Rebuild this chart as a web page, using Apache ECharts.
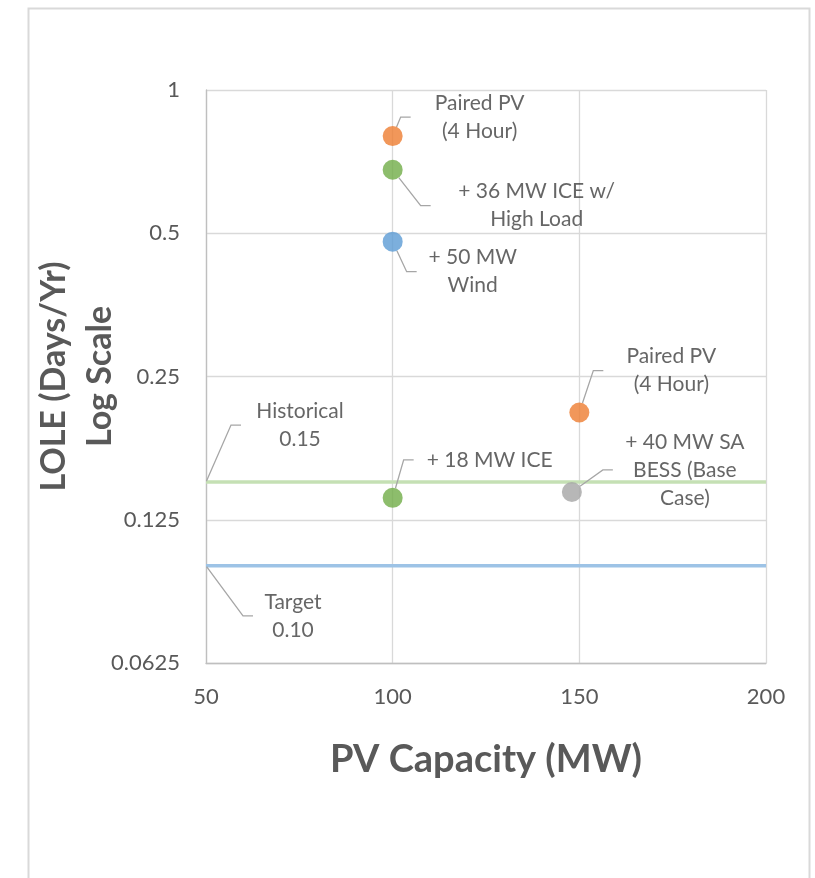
<!DOCTYPE html>
<html>
<head>
<meta charset="utf-8">
<script src="https://cdn.jsdelivr.net/npm/echarts@6/dist/echarts.min.js"></script>
<style>
  html, body { margin: 0; padding: 0; background: #ffffff; }
  #chart { width: 815px; height: 878px; }
</style>
</head>
<body>
<div id="chart"></div>
<script>
// Resource cases: PV capacity (MW) vs. loss-of-load expectation (days/yr)
const pvCapacity = [100, 100, 100, 150, 100, 148];
const lole = [0.80, 0.68, 0.48, 0.21, 0.139, 0.143];
const caseLabels = [
  'Paired PV\n(4 Hour)',
  '+ 36 MW ICE w/\nHigh Load',
  '+ 50 MW\nWind',
  'Paired PV\n(4 Hour)',
  '+ 18 MW ICE',
  '+ 40 MW SA\nBESS (Base\nCase)'
];
const caseColors = ['#ED7D31', '#70AD47', '#5B9BD5', '#ED7D31', '#70AD47', '#A5A5A5'];

// Reference LOLE levels
const refLabels = ['Historical\n0.15', 'Target\n0.10'];
const refValues = [0.15, 0.10];
const refColors = ['#C5E0B4', '#9DC3E6'];

// Axis ticks
const xTicks = [50, 100, 150, 200];
const yTicks = [0.0625, 0.125, 0.25, 0.5, 1];

// Label placement: [dx, dy, box width] in pixels, relative to the point
const caseLabelPlacement = [
  [87, -19, 138],
  [144, 36, 212],
  [80, 30, 112],
  [92, -42, 136],
  [97, -38, 152],
  [113, -22, 144]
];
const refLabelPlacement = [
  [94, -57, 118],
  [87, 50, 80]
];

const FONT = 'Lato, "DejaVu Sans", sans-serif';

const labelBase = {
  show: true,
  position: 'inside',
  color: '#404040',
  fontFamily: FONT,
  fontSize: 21,
  lineHeight: 28,
  align: 'center',
  verticalAlign: 'middle'
};
const leader = {
  show: true,
  length2: 10,
  lineStyle: { color: '#A6A6A6', width: 1.3 }
};

const chart = echarts.init(document.getElementById('chart'), null, { renderer: 'canvas' });

const series = [];

// Reference levels drawn across the full x range
refValues.forEach((v, i) => {
  series.push({
    type: 'line',
    z: 1,
    silent: true,
    symbol: 'none',
    data: [[xTicks[0], v], [xTicks[xTicks.length - 1], v]],
    lineStyle: { color: refColors[i], width: 3.5 }
  });
});

// Anchors for the reference-level callouts
series.push({
  type: 'scatter',
  z: 2,
  silent: true,
  symbolSize: 2,
  itemStyle: { color: 'rgba(0,0,0,0)' },
  data: refValues.map((v, i) => ({
    value: [xTicks[0], v],
    label: { formatter: refLabels[i], width: refLabelPlacement[i][2] }
  })),
  label: labelBase,
  labelLine: leader,
  labelLayout: p => ({ dx: refLabelPlacement[p.dataIndex][0], dy: refLabelPlacement[p.dataIndex][1] })
});

// Resource cases
series.push({
  type: 'scatter',
  z: 3,
  symbolSize: 20,
  data: pvCapacity.map((x, i) => ({
    value: [x, lole[i]],
    itemStyle: { color: caseColors[i] },
    label: { formatter: caseLabels[i], width: caseLabelPlacement[i][2] }
  })),
  label: labelBase,
  labelLine: leader,
  labelLayout: p => ({ dx: caseLabelPlacement[p.dataIndex][0], dy: caseLabelPlacement[p.dataIndex][1] })
});

chart.setOption({
  animation: false,
  backgroundColor: '#ffffff',
  graphic: [{
    type: 'rect',
    left: 26, top: 6,
    shape: { width: 781, height: 900 },
    style: { fill: 'none', stroke: '#D9D9D9', lineWidth: 2 },
    silent: true
  }],
  grid: { left: 206, right: 49, top: 90, bottom: 215, containLabel: false, outerBoundsMode: 'none' },
  xAxis: {
    type: 'value',
    min: xTicks[0],
    max: xTicks[xTicks.length - 1],
    interval: xTicks[1] - xTicks[0],
    name: 'PV Capacity (MW)',
    nameLocation: 'middle',
    nameGap: 78,
    nameMoveOverlap: false,
    nameTextStyle: { fontFamily: FONT, fontWeight: 'bold', fontSize: 38, color: '#595959' },
    axisLine: { show: true, lineStyle: { color: '#BFBFBF', width: 1.3 } },
    axisTick: { show: false },
    axisLabel: { fontFamily: FONT, fontSize: 22, color: '#595959', margin: 23 },
    splitLine: { show: true, lineStyle: { color: '#D9D9D9', width: 1.3 } }
  },
  yAxis: {
    type: 'log',
    logBase: 2,
    min: yTicks[0],
    max: yTicks[yTicks.length - 1],
    splitNumber: yTicks.length - 1,
    name: 'LOLE (Days/Yr)\nLog Scale',
    nameLocation: 'middle',
    nameRotate: 90,
    nameGap: 83,
    nameMoveOverlap: false,
    nameTextStyle: { fontFamily: FONT, fontWeight: 'bold', fontSize: 34, lineHeight: 46, color: '#595959' },
    axisLine: { show: true, lineStyle: { color: '#BFBFBF', width: 1.3 } },
    axisTick: { show: false },
    axisLabel: {
      fontFamily: FONT, fontSize: 22, color: '#595959', margin: 26,
      formatter: v => String(+Number(v).toPrecision(6))
    },
    splitLine: { show: true, lineStyle: { color: '#D9D9D9', width: 1.3 } }
  },
  series: series
});
</script>
</body>
</html>
